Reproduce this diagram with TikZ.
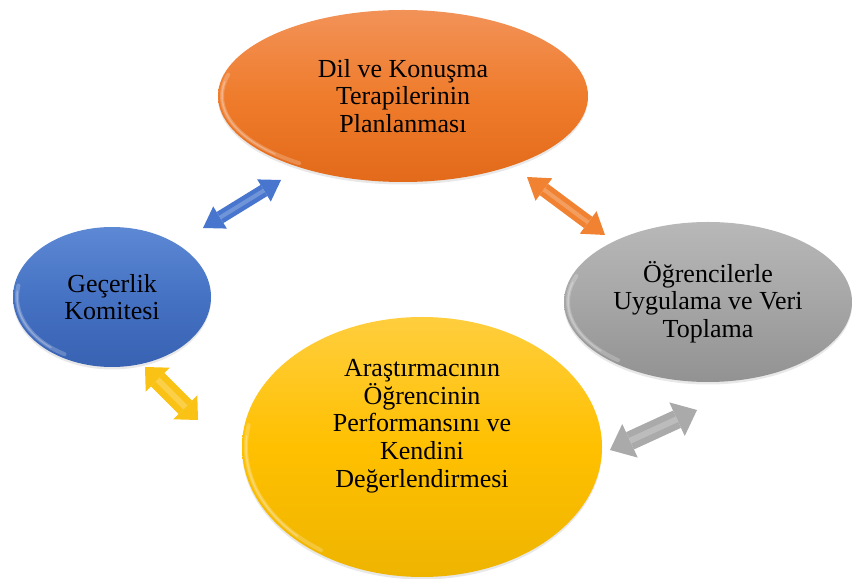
\documentclass[tikz,border=0pt]{standalone}
\usepackage{fontspec}
\setmainfont{Liberation Serif}
\usetikzlibrary{shapes.geometric,arrows.meta,shadows}

% fills of the four stages
\definecolor{orgTop}{RGB}{242,146,88}
\definecolor{orgMid}{RGB}{239,124,44}
\definecolor{orgBot}{RGB}{226,106,26}
\definecolor{gryTop}{RGB}{184,184,184}
\definecolor{gryMid}{RGB}{166,166,166}
\definecolor{gryBot}{RGB}{146,146,146}
\definecolor{bluTop}{RGB}{92,136,212}
\definecolor{bluMid}{RGB}{70,114,196}
\definecolor{bluBot}{RGB}{56,98,178}
\definecolor{ylwTop}{RGB}{255,206,62}
\definecolor{ylwMid}{RGB}{255,192,0}
\definecolor{ylwBot}{RGB}{238,180,0}
% arrow colours
\definecolor{arBlue}{RGB}{72,118,206}
\definecolor{arOrange}{RGB}{240,130,50}
\definecolor{arYellow}{RGB}{250,194,20}
\definecolor{arGray}{RGB}{170,170,170}

\begin{document}
\begin{tikzpicture}[x=1pt,y=1pt,
  bubble/.style={ellipse, inner sep=0pt, outer sep=0pt, align=center,
    font=\fontsize{26}{27.7}\selectfont, text=black,
    drop shadow={opacity=0.18, shadow xshift=0pt, shadow yshift=-2.5pt}},
  label text/.style={inner sep=0pt, align=center,
    font=\fontsize{26}{27.7}\selectfont, text=black},
  rim/.style={white, opacity=0.22, line width=4pt, line cap=round},
  rim core/.style={white, opacity=0.25, line width=1.5pt, line cap=round},
  shine/.style={white, opacity=0.22, line width=#1, line cap=butt},
  link/.style n args={4}{line width=#1, draw=#4,
    {Triangle[width=#2, length=#3, line width=0pt]}-{Triangle[width=#2, length=#3, line width=0pt]}},
]
\useasboundingbox (0,0) rectangle (853,578);
\fill[white] (0,0) rectangle (853,578);

% the four stages
\node[bubble, minimum width=370pt, minimum height=172pt,
      top color=orgTop, bottom color=orgBot, middle color=orgMid] (plan) at (403,482)
  {Dil ve Konuşma\\Terapilerinin\\Planlanması};
\node[bubble, minimum width=288pt, minimum height=160pt,
      top color=gryTop, bottom color=gryBot, middle color=gryMid] (data) at (708,276)
  {Öğrencilerle\\Uygulama ve Veri\\Toplama};
\node[bubble, minimum width=198pt, minimum height=140pt,
      top color=bluTop, bottom color=bluBot, middle color=bluMid] (committee) at (112,281)
  {Geçerlik\\Komitesi};
\node[bubble, minimum width=360pt, minimum height=260pt,
      top color=ylwTop, bottom color=ylwBot, middle color=ylwMid] (eval) at (422,131) {};
\node[label text] (evaltext) at ([yshift=21pt]eval.center)
  {Araştırmacının\\Öğrencinin\\Performansını ve\\Kendini\\Değerlendirmesi};

% soft glossy rims on the lower left
\draw[rim] (plan.center) ++(165:181 and 82) arc[start angle=165, end angle=235, x radius=181, y radius=82];
\draw[rim core] (plan.center) ++(170:181 and 82) arc[start angle=170, end angle=225, x radius=181, y radius=82];
\draw[rim] (data.center) ++(160:140 and 76) arc[start angle=160, end angle=230, x radius=140, y radius=76];
\draw[rim core] (data.center) ++(165:140 and 76) arc[start angle=165, end angle=220, x radius=140, y radius=76];
\draw[rim] (committee.center) ++(170:95 and 66) arc[start angle=170, end angle=240, x radius=95, y radius=66];
\draw[rim core] (committee.center) ++(175:95 and 66) arc[start angle=175, end angle=230, x radius=95, y radius=66];
\draw[rim] (eval.center) ++(170:176 and 126) arc[start angle=170, end angle=235, x radius=176, y radius=126];
\draw[rim core] (eval.center) ++(175:176 and 126) arc[start angle=175, end angle=225, x radius=176, y radius=126];

% ends of the double arrows
\coordinate (b1) at (203,350); \coordinate (b2) at (281,398);
\coordinate (o1) at (527,401); \coordinate (o2) at (605,343);
\coordinate (y1) at (145,211); \coordinate (y2) at (198,158);
\coordinate (g1) at (610,128); \coordinate (g2) at (697,168);

% double arrows between the stages
\draw[link={13pt}{26pt}{20pt}{arBlue}] (b1) -- (b2);
\draw[shine=4pt, shorten <=20pt, shorten >=20pt] (b1) -- (b2);
\draw[link={14pt}{28pt}{21pt}{arOrange}] (o1) -- (o2);
\draw[shine=4pt, shorten <=21pt, shorten >=21pt] (o1) -- (o2);
\draw[link={19pt}{34pt}{18pt}{arYellow}] (y1) -- (y2);
\draw[shine=6pt, shorten <=18pt, shorten >=18pt] (y1) -- (y2);
\draw[link={19pt}{37pt}{22pt}{arGray}] (g1) -- (g2);
\draw[shine=6pt, shorten <=22pt, shorten >=22pt] (g1) -- (g2);
\end{tikzpicture}
\end{document}
